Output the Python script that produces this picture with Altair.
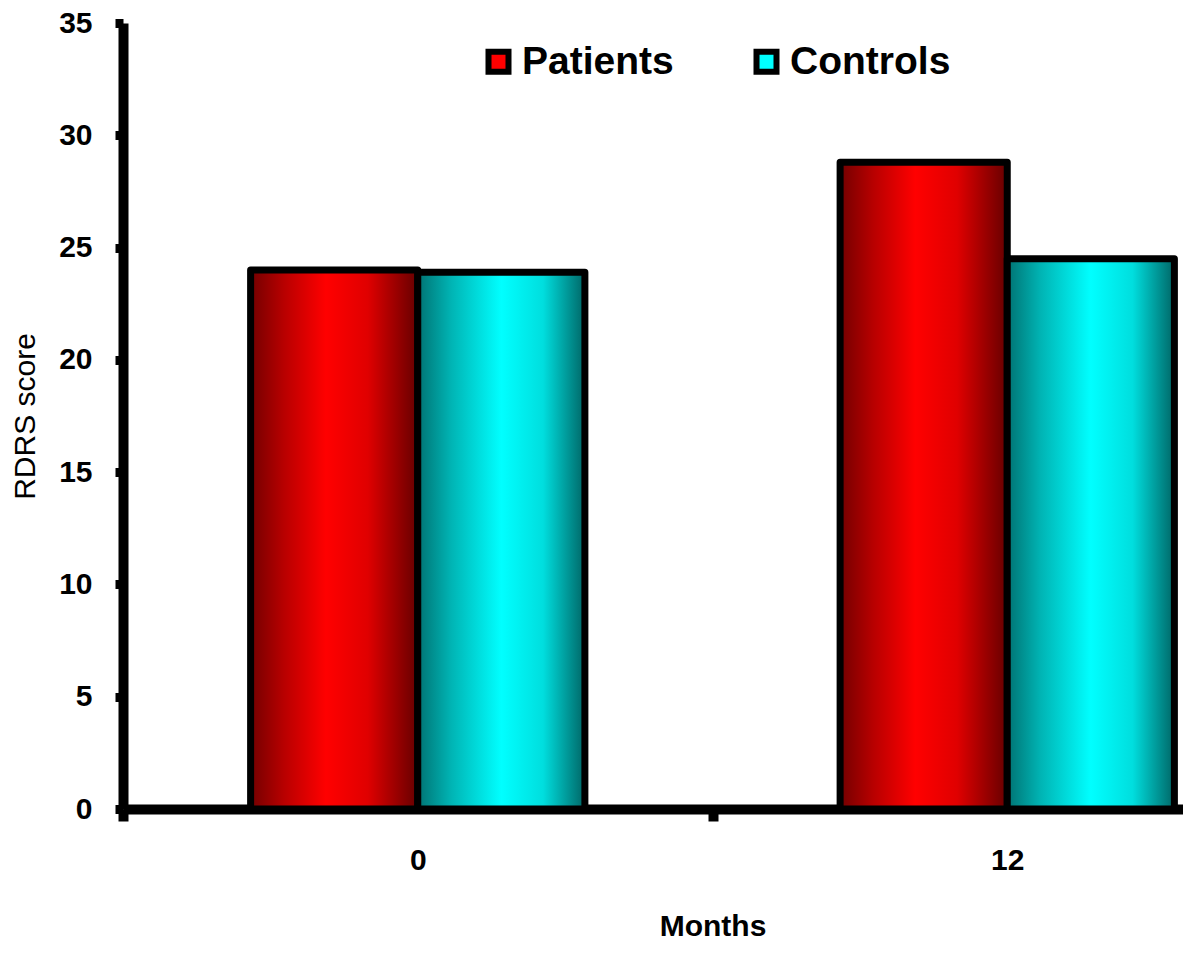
import altair as alt
import pandas as pd

months = ["0", "12"]
groups = ["Patients", "Controls"]
patients = [24.0, 28.8]
controls = [23.9, 24.5]
y_ticks = [0, 5, 10, 15, 20, 25, 30, 35]

rows = []
for i, m in enumerate(months):
    rows.append({"Months": m, "Group": "Patients", "Score": patients[i]})
    rows.append({"Months": m, "Group": "Controls", "Score": controls[i]})
df = pd.DataFrame(rows)

FONT = "Liberation Sans"

red_grad = alt.Gradient(
    gradient="linear", x1=0, x2=1, y1=0, y2=0,
    stops=[
        alt.GradientStop(offset=0, color="#730000"),
        alt.GradientStop(offset=0.2, color="#b80000"),
        alt.GradientStop(offset=0.45, color="#ff0000"),
        alt.GradientStop(offset=0.7, color="#e00000"),
        alt.GradientStop(offset=1, color="#660000"),
    ],
)
cyan_grad = alt.Gradient(
    gradient="linear", x1=0, x2=1, y1=0, y2=0,
    stops=[
        alt.GradientStop(offset=0, color="#007373"),
        alt.GradientStop(offset=0.2, color="#00b4b4"),
        alt.GradientStop(offset=0.5, color="#00ffff"),
        alt.GradientStop(offset=0.75, color="#00dede"),
        alt.GradientStop(offset=1, color="#006666"),
    ],
)

x_enc = alt.X(
    "Months:N",
    sort=months,
    scale=alt.Scale(range=[0, 1179], paddingInner=0, paddingOuter=0),
    axis=alt.Axis(
        title="Months",
        labelAngle=0,
        labelFont=FONT, labelFontWeight="bold", labelFontSize=30, labelColor="black",
        labelPadding=24,
        titleFont=FONT, titleFontWeight="bold", titleFontSize=30, titleColor="black",
        titlePadding=36,
        domainColor="black", domainWidth=10,
        tickColor="black", tickWidth=10, tickSize=12, tickBand="extent",
        grid=False,
    ),
)
xoff_enc = alt.XOffset(
    "Group:N", sort=groups,
    scale=alt.Scale(paddingInner=0, paddingOuter=0.7635),
)
y_enc = alt.Y(
    "Score:Q",
    scale=alt.Scale(domain=[0, 35], nice=False, zero=True),
    axis=alt.Axis(
        title="RDRS score",
        values=y_ticks,
        labelFont=FONT, labelFontWeight="bold", labelFontSize=30, labelColor="black",
        labelPadding=23,
        titleFont=FONT, titleFontWeight="normal", titleFontSize=30, titleColor="black",
        titlePadding=18,
        domainColor="black", domainWidth=10,
        tickColor="black", tickWidth=9, tickSize=8,
        grid=False,
    ),
)
color_enc = alt.Color(
    "Group:N", sort=groups,
    scale=alt.Scale(domain=groups, range=["#ff0000", "#00ffff"]),
    legend=alt.Legend(
        title=None, orient="none", direction="horizontal",
        legendX=356, legendY=19, padding=0,
        symbolType="square", symbolSize=400,
        symbolStrokeColor="black", symbolStrokeWidth=6,
        labelFont=FONT, labelFontWeight="bold", labelFontSize=39, labelColor="black",
        labelOffset=4, columnPadding=70, labelLimit=400,
    ),
)

base = alt.Chart(df)

bars_p = base.transform_filter(alt.datum.Group == "Patients").mark_bar(
    fill=red_grad, stroke="black", strokeWidth=7, strokeJoin="round"
).encode(x=x_enc, xOffset=xoff_enc, y=y_enc, color=color_enc)

bars_c = base.transform_filter(alt.datum.Group == "Controls").mark_bar(
    fill=cyan_grad, stroke="black", strokeWidth=7, strokeJoin="round"
).encode(x=x_enc, xOffset=xoff_enc, y=y_enc, color=color_enc)

chart = alt.layer(bars_p, bars_c).properties(
    width=1060, height=786,
    autosize=alt.AutoSizeParams(type="none"),
    padding={"left": 115, "top": 15, "right": 0, "bottom": 140},
    background="white",
).configure_view(stroke=None)

chart.save("out.html", embed_options={"renderer": "svg", "actions": False})
